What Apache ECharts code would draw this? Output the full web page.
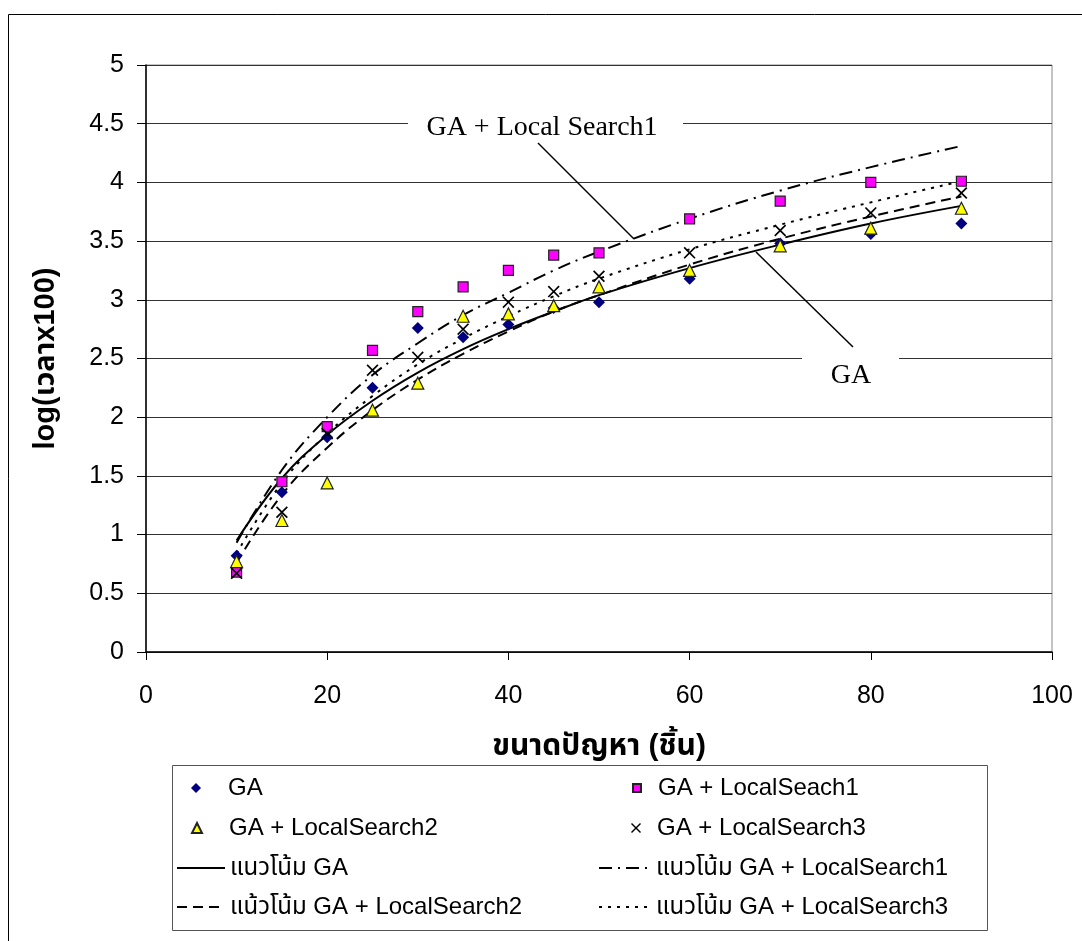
<!DOCTYPE html>
<html>
<head>
<meta charset="utf-8">
<script src="https://cdn.jsdelivr.net/npm/echarts@6/dist/echarts.min.js"></script>
<style>
  html, body { margin: 0; padding: 0; background: #fff; }
  #chart { width: 1082px; height: 941px; }
</style>
</head>
<body>
<div id="chart"></div>
<script>
// ขนาดปัญหา (ชิ้น)
const sizes = [10, 15, 20, 25, 30, 35, 40, 45, 50, 60, 70, 80, 90];

// log(เวลาx100) ของแต่ละวิธี
const gaTime = [0.82, 1.36, 1.83, 2.25, 2.76, 2.68, 2.79, 2.93, 2.98, 3.18, 3.48, 3.56, 3.65];
const ls1Time = [0.68, 1.45, 1.92, 2.57, 2.90, 3.11, 3.25, 3.38, 3.40, 3.69, 3.84, 4.00, 4.01];
const ls2Time = [0.77, 1.12, 1.44, 2.06, 2.29, 2.86, 2.88, 2.95, 3.11, 3.25, 3.46, 3.61, 3.78];
const ls3Time = [0.67, 1.19, 1.86, 2.40, 2.51, 2.75, 2.98, 3.07, 3.20, 3.40, 3.59, 3.74, 3.91];

// เส้นแนวโน้ม (อ่านจากกราฟ)
const gaTrend = [0.95, 1.48, 1.85, 2.14, 2.38, 2.58, 2.75, 2.90, 3.04, 3.27, 3.47, 3.65, 3.80];
const ls1Trend = [0.93, 1.55, 2.00, 2.36, 2.63, 2.87, 3.06, 3.25, 3.41, 3.69, 3.93, 4.13, 4.31];
const ls2Trend = [0.76, 1.34, 1.74, 2.06, 2.32, 2.54, 2.73, 2.90, 3.04, 3.30, 3.52, 3.71, 3.88];
const ls3Trend = [0.84, 1.44, 1.86, 2.18, 2.45, 2.67, 2.86, 3.03, 3.18, 3.43, 3.64, 3.83, 4.01];

const xTicks = [0, 20, 40, 60, 80, 100];
const yTicks = [0, 0.5, 1, 1.5, 2, 2.5, 3, 3.5, 4, 4.5, 5];

const sansFont = "'Liberation Sans', Arial, 'Noto Sans Thai', 'Noto Sans', sans-serif";
const serifFont = "'Liberation Serif', 'Times New Roman', serif";
const crossIcon = 'path://M0,1L1,0L5,4L9,0L10,1L6,5L10,9L9,10L5,6L1,10L0,9L4,5Z';

const pairs = ys => sizes.map((x, i) => [x, ys[i]]);

function scatter(name, ys, symbol, size, color, border) {
  return {
    name, type: 'scatter', z: 4,
    data: pairs(ys),
    symbol, symbolSize: size,
    itemStyle: { color, borderColor: border || color, borderWidth: border ? 1.2 : 0, opacity: 1 },
  };
}

function trend(name, ys, dash) {
  return {
    name, type: 'line', z: 3,
    data: pairs(ys),
    smooth: 0.4,
    symbol: 'none', showSymbol: false,
    itemStyle: { color: '#000' },
    lineStyle: { color: '#000', width: 2, type: dash },
  };
}

const legendText = { fontFamily: sansFont, fontSize: 24, color: '#000', lineHeight: 28 };

// คำอธิบายแบบจุด: ไอคอนขนาดเท่าจุด แล้วเลื่อนข้อความด้วย padding
function legendMark(name, cx, cy, size, textLeft) {
  const left = cx - size / 2;
  return {
    data: [name], left, top: cy - 14, padding: 0,
    itemWidth: size, itemHeight: size, selectedMode: false,
    textStyle: Object.assign({ padding: [0, 0, 0, textLeft - left - size - 5] }, legendText),
  };
}

function legendLine(name, left, cy, w) {
  return {
    data: [name], left, top: cy - 14, padding: 0,
    itemWidth: w, itemHeight: 12, selectedMode: false,
    itemStyle: { opacity: 0 },
    textStyle: legendText,
  };
}

const chart = echarts.init(document.getElementById('chart'));

const option = {
  backgroundColor: '#fff',
  animation: false,
  grid: {
    left: 146, right: 30, top: 65, bottom: 289,
    show: true, borderColor: '#888', borderWidth: 1, backgroundColor: 'transparent',
  },
  xAxis: {
    type: 'value', min: xTicks[0], max: xTicks[xTicks.length - 1], interval: 20,
    name: 'ขนาดปัญหา (ชิ้น)', nameLocation: 'middle', nameGap: 80,
    nameTextStyle: { fontFamily: sansFont, fontSize: 30, fontWeight: 'bold', color: '#000' },
    axisLine: { lineStyle: { color: '#000', width: 1.5 } },
    axisTick: { length: 8, lineStyle: { color: '#000' } },
    axisLabel: { fontFamily: sansFont, fontSize: 25, color: '#000', margin: 32 },
    splitLine: { show: false },
  },
  yAxis: {
    type: 'value', min: yTicks[0], max: yTicks[yTicks.length - 1], interval: 0.5,
    name: 'log(เวลาx100)', nameLocation: 'middle', nameGap: 86, nameRotate: 90,
    nameTextStyle: { fontFamily: sansFont, fontSize: 29, fontWeight: 'bold', color: '#000' },
    axisLine: { lineStyle: { color: '#000', width: 1.5 } },
    axisTick: { length: 9, lineStyle: { color: '#000' } },
    axisLabel: { fontFamily: sansFont, fontSize: 25, color: '#000', margin: 22 },
    splitLine: { lineStyle: { color: '#333', width: 1 } },
  },
  legend: [
    legendMark('GA', 196, 788, 10, 228),
    legendMark('GA + LocalSeach1', 636, 788, 8, 657),
    legendMark('GA + LocalSearch2', 196, 828, 10, 228),
    legendMark('GA + LocalSearch3', 636, 828, 10, 657),
    legendLine('แนวโน้ม GA', 176, 868, 48),
    legendLine('แนวโน้ม GA + LocalSearch1', 598, 868, 52),
    legendLine('แน้วโน้ม GA + LocalSearch2', 176, 907, 48),
    legendLine('แนวโน้ม GA + LocalSearch3', 598, 907, 52),
  ],
  series: [
    trend('แนวโน้ม GA', gaTrend, 'solid'),
    trend('แนวโน้ม GA + LocalSearch1', ls1Trend, [13, 6, 2, 6]),
    trend('แน้วโน้ม GA + LocalSearch2', ls2Trend, [10, 6]),
    trend('แนวโน้ม GA + LocalSearch3', ls3Trend, [3, 6]),
    scatter('GA', gaTime, 'diamond', 12, '#000080'),
    scatter('GA + LocalSeach1', ls1Time, 'rect', 10, '#ff00ff', '#222'),
    scatter('GA + LocalSearch2', ls2Time, 'triangle', 12, '#ffff00', '#222'),
    scatter('GA + LocalSearch3', ls3Time, crossIcon, 12, '#000'),
  ],
  graphic: [
    // กรอบนอก
    { type: 'rect', z: 0, silent: true, shape: { x: 8.5, y: 14.5, width: 1100, height: 1000 },
      style: { fill: 'none', stroke: '#000', lineWidth: 1 } },
    // กรอบคำอธิบาย
    { type: 'rect', z: 0, silent: true, shape: { x: 172.5, y: 765.5, width: 815, height: 165 },
      style: { fill: 'none', stroke: '#555', lineWidth: 1 } },
    // ป้าย GA + Local Search1
    { type: 'rect', z: 10, silent: true, shape: { x: 408, y: 112, width: 275, height: 34 },
      style: { fill: '#fff' } },
    { type: 'text', z: 11, silent: true, x: 542, y: 128,
      style: { text: 'GA + Local Search1', font: '28px ' + serifFont, fill: '#000', align: 'center', verticalAlign: 'middle' } },
    { type: 'line', z: 11, silent: true, shape: { x1: 538, y1: 143, x2: 634, y2: 239 },
      style: { stroke: '#000', lineWidth: 1.5 } },
    // ป้าย GA
    { type: 'rect', z: 10, silent: true, shape: { x: 802, y: 352, width: 97, height: 40 },
      style: { fill: '#fff' } },
    { type: 'text', z: 11, silent: true, x: 851, y: 376,
      style: { text: 'GA', font: '28px ' + serifFont, fill: '#000', align: 'center', verticalAlign: 'middle' } },
    { type: 'line', z: 11, silent: true, shape: { x1: 756, y1: 252, x2: 853, y2: 347 },
      style: { stroke: '#000', lineWidth: 1.5 } },
  ],
};

chart.setOption(option);
</script>
</body>
</html>
